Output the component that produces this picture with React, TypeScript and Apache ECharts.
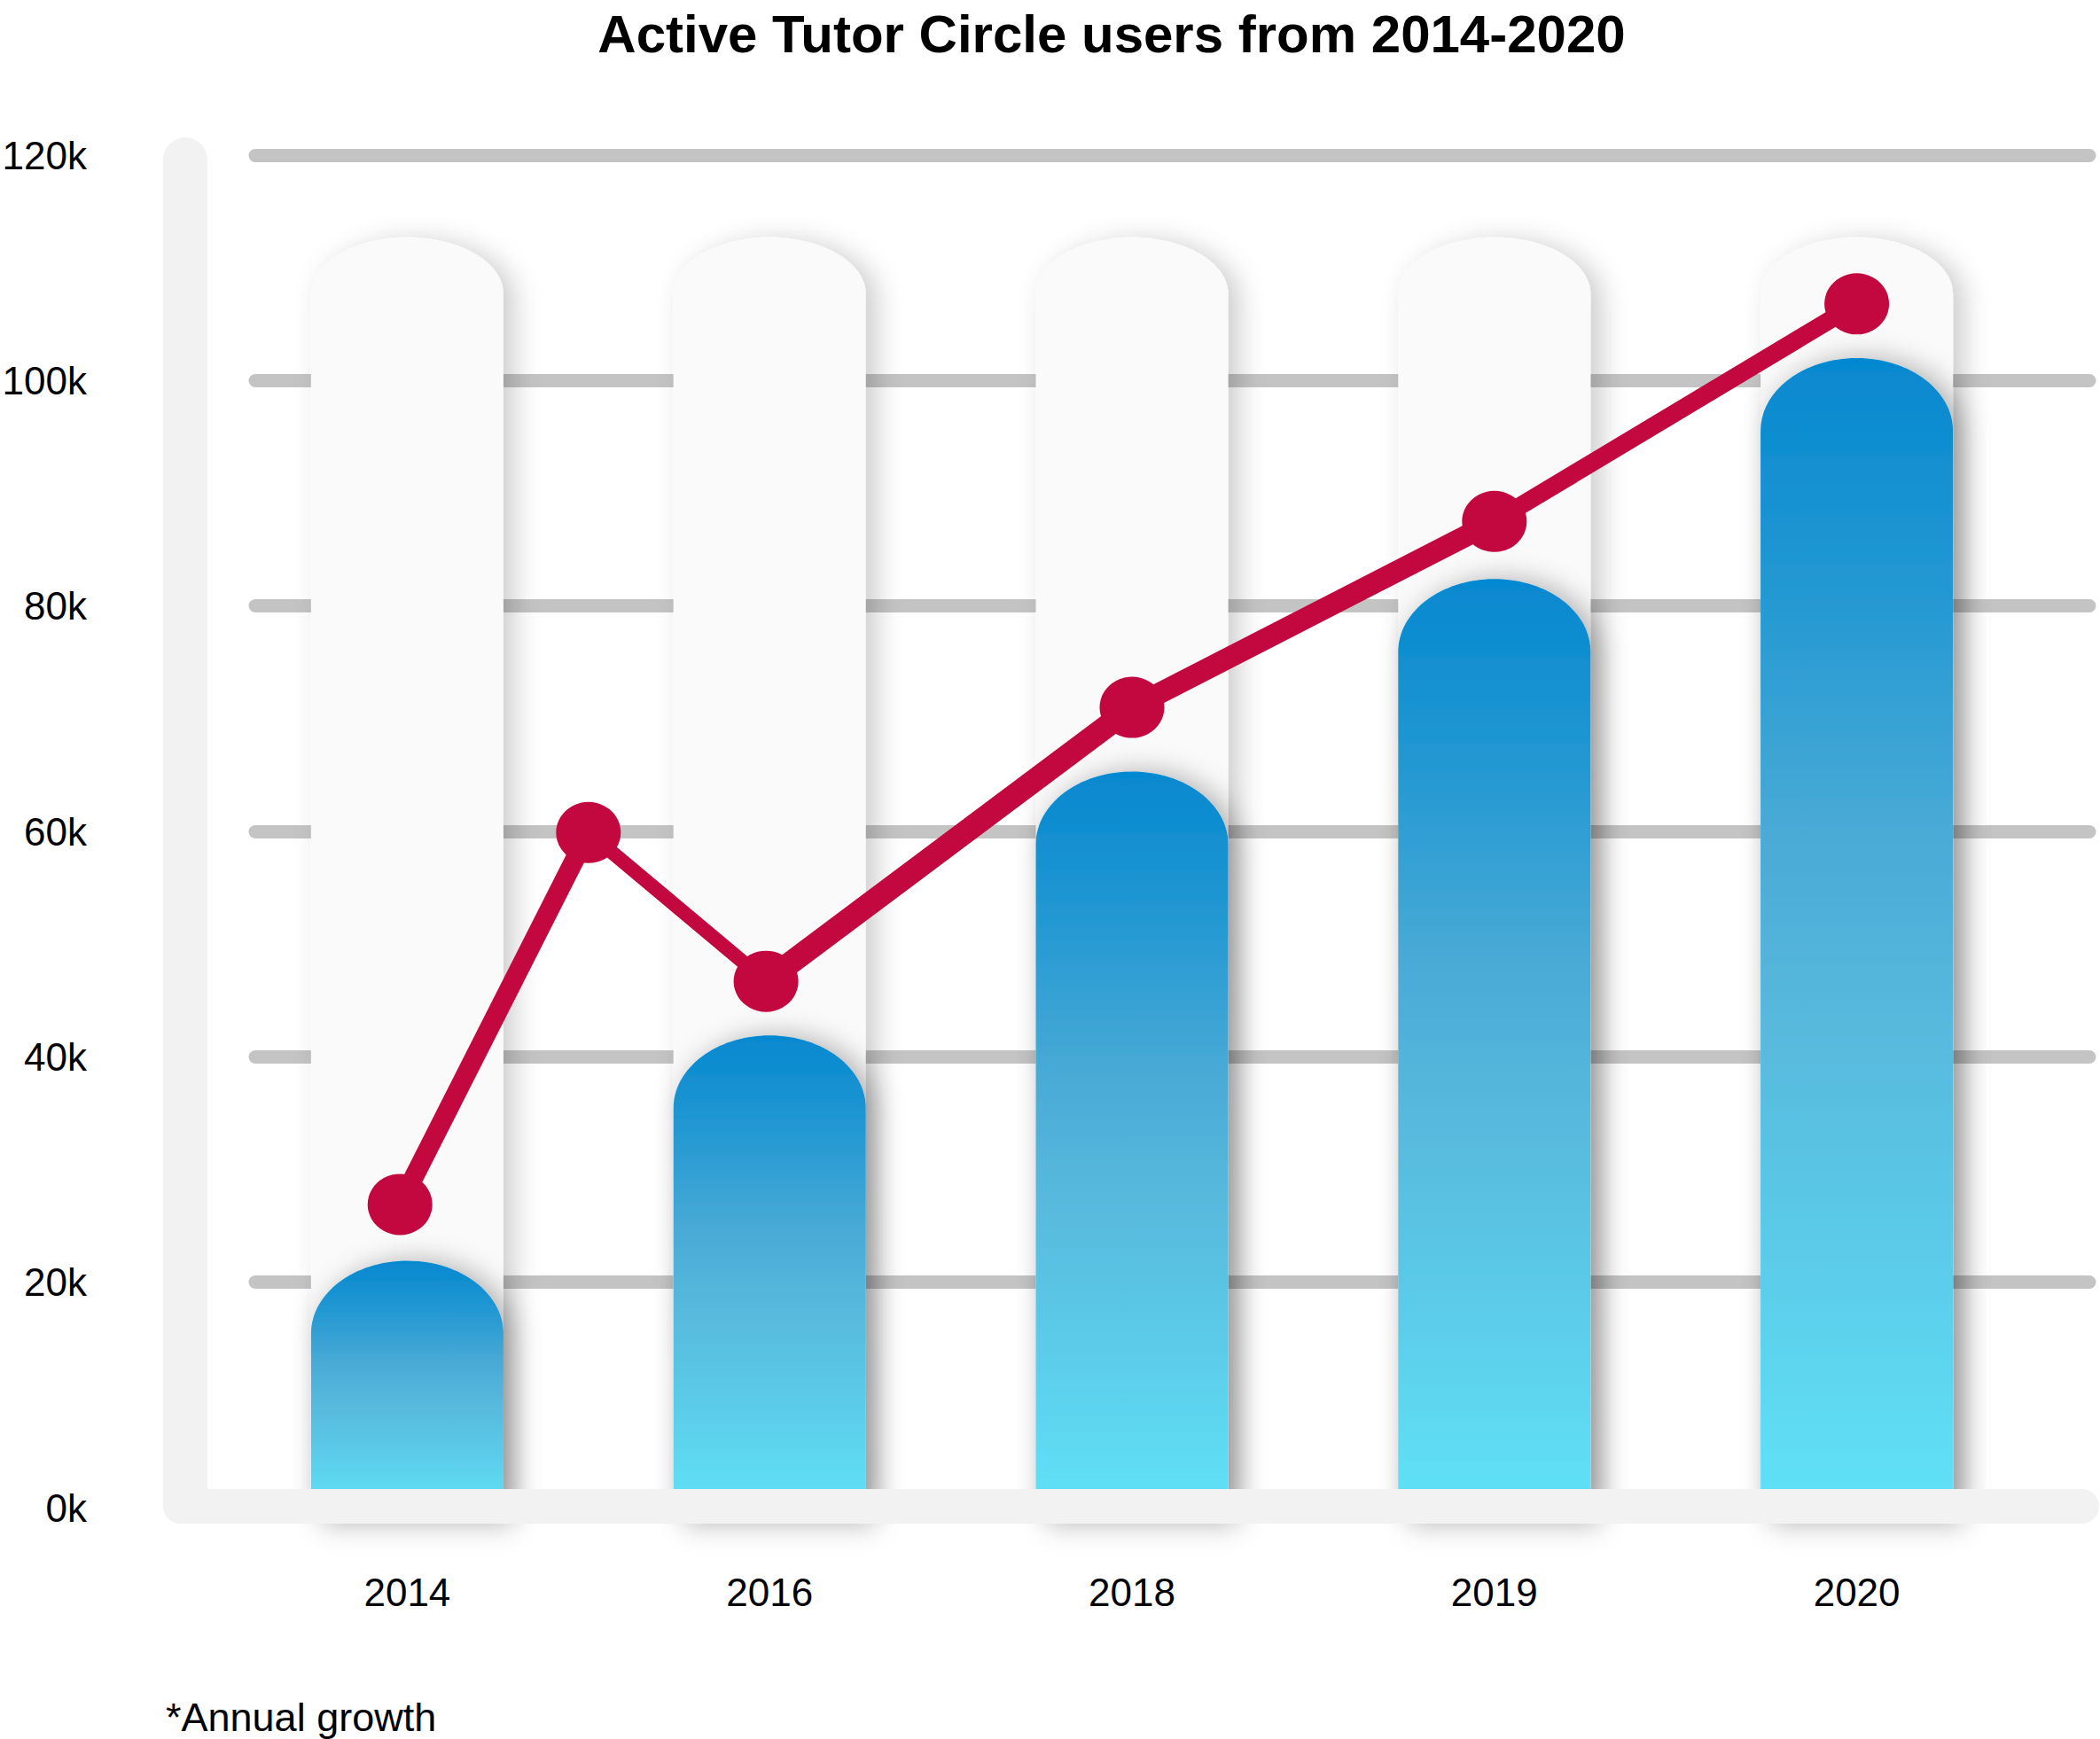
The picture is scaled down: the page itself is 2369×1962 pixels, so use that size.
import React, { useEffect, useRef } from 'react';
import * as echarts from 'echarts';

// ---- data ----
const categories = ['2014', '2016', '2018', '2019', '2020'];
const userValues = [21.9, 41.9, 65.3, 82.4, 102.0];
const trackValues = [112.7, 112.7, 112.7, 112.7, 112.7];
const growthX = [-0.02, 0.5, 0.99, 2, 3, 4];
const growthValues = [26.9, 59.9, 46.7, 71.0, 87.5, 106.8];
const yMin = 0;
const yMax = 120;
const yInterval = 20;
const titleText = 'Active Tutor Circle users from 2014-2020';
const footnoteText = '*Annual growth';

// ---- styles ----
const FONT = "'Liberation Sans', Arial, Helvetica, sans-serif";
const RED = '#c3073f';
const BAR_W = 217;
const BAR_DOME = 82;
const TRACK_DOME = 64;
const segWidths = [22, 16, 26, 24, 20];

function domePath(x0: number, x1: number, yt: number, yb: number, ry: number) {
  const k = 0.5523;
  const cx = (x0 + x1) / 2;
  const rx = (x1 - x0) / 2;
  const ym = yt + ry;
  return (
    `M${x0} ${yb} L${x0} ${ym} ` +
    `C${x0} ${ym - k * ry} ${cx - k * rx} ${yt} ${cx} ${yt} ` +
    `C${cx + k * rx} ${yt} ${x1} ${ym - k * ry} ${x1} ${ym} ` +
    `L${x1} ${yb} Z`
  );
}

export default function App() {
  const ref = useRef<HTMLDivElement>(null);

  useEffect(() => {
    if (!ref.current) return;
    const chart = echarts.init(ref.current, null, { renderer: 'svg' });

    const lineSeries = segWidths.map((w, i) => ({
      type: 'line',
      xAxisIndex: 2,
      yAxisIndex: 1,
      data: [
        [growthX[i], growthValues[i]],
        [growthX[i + 1], growthValues[i + 1]],
      ],
      symbol: 'none',
      showSymbol: false,
      silent: true,
      z: 3,
      lineStyle: { color: RED, width: w, cap: 'round' },
    }));

    const option: any = {
      animation: false,
      backgroundColor: '#ffffff',
      grid: [
        { left: 288, right: 12, top: 175, bottom: 261, outerBoundsMode: 'none' },
        { left: 255, right: 70, top: 175, bottom: 261, outerBoundsMode: 'none' },
      ],
      xAxis: [
        { type: 'value', gridIndex: 0, min: 0, max: 1, show: false },
        {
          type: 'category',
          gridIndex: 1,
          data: categories,
          axisLine: { show: false },
          axisTick: { show: false },
          splitLine: { show: false },
          axisLabel: {
            interval: 0,
            margin: 73,
            fontSize: 44,
            fontFamily: FONT,
            color: '#000',
          },
        },
        { type: 'value', gridIndex: 1, min: -0.5, max: 4.5, show: false },
      ],
      yAxis: [
        {
          type: 'value',
          gridIndex: 0,
          min: yMin,
          max: yMax,
          interval: yInterval,
          axisLine: { show: false },
          axisTick: { show: false },
          axisLabel: {
            formatter: '{value}k',
            margin: 190,
            fontSize: 44,
            fontFamily: FONT,
            color: '#000',
          },
          splitLine: {
            show: true,
            lineStyle: { color: '#c4c4c4', width: 15, cap: 'round' },
          },
        },
        { type: 'value', gridIndex: 1, min: yMin, max: yMax, show: false },
      ],
      series: [
        {
          type: 'custom',
          name: 'track',
          xAxisIndex: 1,
          yAxisIndex: 1,
          z: 1,
          silent: true,
          data: trackValues.map((v, i) => [i, v]),
          renderItem: (params: any, api: any) => {
            const i = api.value(0);
            const v = api.value(1);
            const top = api.coord([i, v]);
            const base = api.coord([i, 0]);
            const x0 = top[0] - BAR_W / 2;
            const x1 = top[0] + BAR_W / 2;
            return {
              type: 'path',
              shape: { pathData: domePath(x0, x1, top[1], base[1] + 18, TRACK_DOME) },
              style: {
                fill: '#fafafa',
                shadowBlur: 30,
                shadowColor: 'rgba(0,0,0,0.2)',
                shadowOffsetX: 12,
                shadowOffsetY: 4,
              },
            };
          },
        },
        {
          type: 'custom',
          name: 'users',
          xAxisIndex: 1,
          yAxisIndex: 1,
          z: 2,
          silent: true,
          data: userValues.map((v, i) => [i, v]),
          renderItem: (params: any, api: any) => {
            const i = api.value(0);
            const v = api.value(1);
            const top = api.coord([i, v]);
            const base = api.coord([i, 0]);
            const x0 = top[0] - BAR_W / 2;
            const x1 = top[0] + BAR_W / 2;
            return {
              type: 'path',
              shape: { pathData: domePath(x0, x1, top[1], base[1], BAR_DOME) },
              style: {
                fill: new echarts.graphic.LinearGradient(0, 0, 0, 1, [
                  { offset: 0, color: '#0588d0' },
                  { offset: 0.2, color: '#2398d2' },
                  { offset: 0.42, color: '#4aabd6' },
                  { offset: 0.58, color: '#58b9dd' },
                  { offset: 0.78, color: '#5bcbe9' },
                  { offset: 1, color: '#60e2f8' },
                ]),
                shadowBlur: 30,
                shadowColor: 'rgba(0,0,0,0.3)',
                shadowOffsetX: 10,
              },
            };
          },
        },
        ...lineSeries,
        {
          type: 'scatter',
          xAxisIndex: 2,
          yAxisIndex: 1,
          z: 4,
          silent: true,
          symbol: 'circle',
          symbolSize: [73, 69],
          itemStyle: { color: RED, opacity: 1 },
          data: growthX.map((x, i) => [x, growthValues[i]]),
        },
      ],
      graphic: [
        {
          type: 'rect',
          z: 10,
          silent: true,
          shape: { x: 184, y: 155, width: 50, height: 1564, r: [25, 25, 0, 20] },
          style: { fill: '#f2f2f2' },
        },
        {
          type: 'rect',
          z: 10,
          silent: true,
          shape: { x: 184, y: 1680, width: 2184, height: 39, r: [0, 19.5, 19.5, 20] },
          style: { fill: '#f2f2f2' },
        },
        {
          type: 'text',
          z: 10,
          x: 1254,
          y: 38,
          style: {
            text: titleText,
            font: `bold 60px ${FONT}`,
            fill: '#000',
            align: 'center',
            verticalAlign: 'middle',
          },
        },
        {
          type: 'text',
          z: 10,
          x: 187,
          y: 1937,
          style: {
            text: footnoteText,
            font: `45px ${FONT}`,
            fill: '#000',
            align: 'left',
            verticalAlign: 'middle',
          },
        },
      ],
    };

    chart.setOption(option);
    return () => chart.dispose();
  }, []);

  return (
    <div
      ref={ref}
      style={{ position: 'absolute', left: 0, top: 0, width: 2369, height: 1962 }}
    />
  );
}
